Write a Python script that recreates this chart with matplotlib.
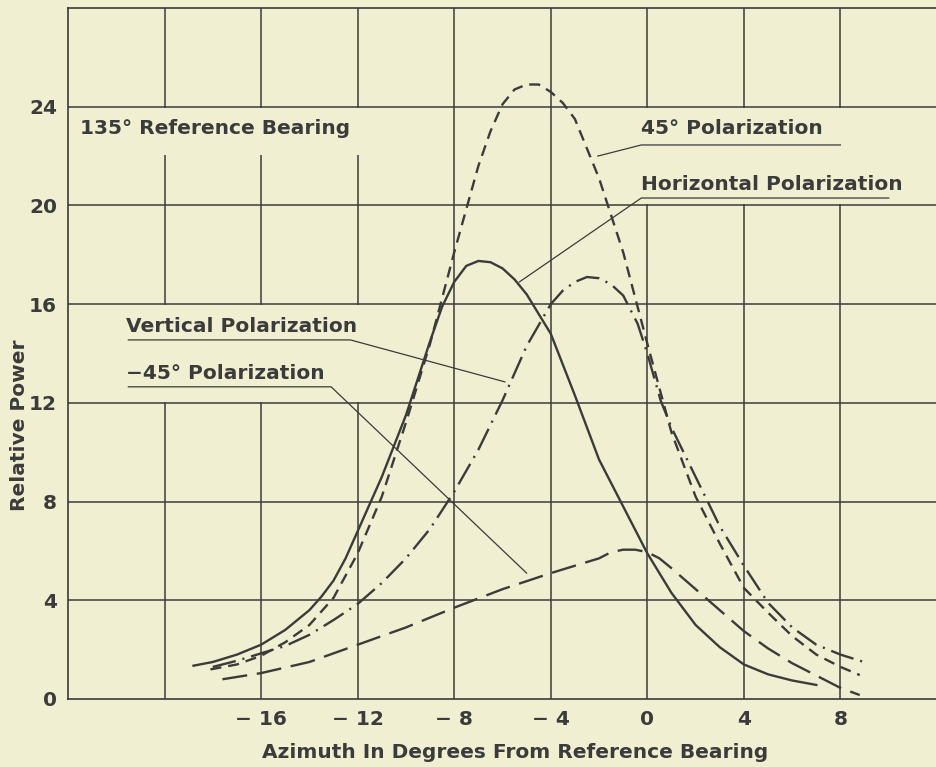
import matplotlib
matplotlib.use("Agg")
import matplotlib.pyplot as plt
from matplotlib.patches import Rectangle

# readings: azimuth (deg) and relative power
horiz_x = [-18.8, -18, -17, -16, -15, -14, -13.5, -13, -12.5, -12, -11, -10, -9, -8.5, -8, -7.5,
           -7, -6.5, -6, -5.5, -5, -4, -3, -2, -1, 0, 1, 2, 3, 4, 5, 6, 7]
horiz_y = [1.35, 1.5, 1.8, 2.2, 2.8, 3.6, 4.15, 4.8, 5.7, 6.8, 9.0, 11.5, 14.5, 15.9, 16.9,
           17.55, 17.75, 17.7, 17.45, 17.0, 16.4, 14.8, 12.3, 9.7, 7.8, 5.9, 4.3, 3.0, 2.1, 1.4,
           1.0, 0.75, 0.57]

pol45_x = [-18.1, -17, -16, -15, -14, -13, -12, -11, -10, -9, -8, -7, -6.5, -6, -5.5, -5, -4.5,
           -4, -3.5, -3, -2, -1, 0, 1, 2, 3, 4, 5, 6, 7, 8, 8.8]
pol45_y = [1.2, 1.4, 1.75, 2.3, 3.0, 4.1, 5.9, 8.2, 11.2, 14.4, 18.1, 21.6, 23.0, 24.1, 24.7,
           24.9, 24.9, 24.6, 24.15, 23.5, 21.1, 18.1, 14.4, 10.8, 8.2, 6.3, 4.5, 3.5, 2.55, 1.8,
           1.3, 0.97]

vert_x = [-18, -17, -16, -15, -14, -13, -12, -11, -10, -9, -8, -7, -6, -5, -4, -3.5, -3, -2.5,
          -2, -1.5, -1, -0.4, 0, 0.55, 1, 2, 3, 4, 5, 6, 7, 8, 9.1]
vert_y = [1.3, 1.55, 1.85, 2.15, 2.6, 3.2, 3.85, 4.7, 5.7, 6.9, 8.4, 10.1, 12.1, 14.3, 16.0,
          16.55, 16.9, 17.1, 17.05, 16.8, 16.35, 15.2, 14.0, 12.1, 11.0, 9.0, 7.0, 5.4, 3.9, 2.9,
          2.2, 1.8, 1.46]

neg45_x = [-17.6, -16, -14, -12, -10, -8, -6, -4, -2, -1.5, -1, -0.5, 0, 0.5, 1, 2, 3, 4, 5,
           6, 7, 8, 8.8]
neg45_y = [0.8, 1.05, 1.5, 2.2, 2.9, 3.7, 4.45, 5.1, 5.7, 5.95, 6.05, 6.05, 5.95, 5.7, 5.3,
           4.45, 3.6, 2.75, 2.05, 1.45, 0.95, 0.45, 0.16]

x_ticks = [-16, -12, -8, -4, 0, 4, 8]
y_ticks = [0, 4, 8, 12, 16, 20, 24]

bg = "#f0efd1"
ink = "#3b3b3b"
plt.rcParams["font.family"] = "DejaVu Sans"
plt.rcParams["font.weight"] = "bold"
plt.rcParams["lines.scale_dashes"] = False

fig = plt.figure(figsize=(9.37, 7.67), dpi=100, facecolor=bg)
ax = fig.add_axes([68 / 937, 68 / 767, 869 / 937, 691 / 767], facecolor=bg)
ax.set_xlim(-24, 12)
ax.set_ylim(0, 28)

# grid
for gx in range(-20, 12, 4):
    ax.axvline(gx, color=ink, lw=1.1, zorder=1)
for gy in range(4, 28, 4):
    ax.axhline(gy, color=ink, lw=1.1, zorder=1)

# blank patches behind the labels, where the grid is broken
for (x0, y0, w, h) in [(-23.9, 22.05, 15.3, 1.9), (-0.6, 20.05, 12.6, 3.9),
                       (-23.9, 12.05, 15.3, 3.9)]:
    ax.add_patch(Rectangle((x0, y0), w, h, facecolor=bg, edgecolor="none", zorder=2))

lw = 1.7
ax.plot(horiz_x, horiz_y, color=ink, lw=lw, zorder=4)
ax.plot(pol45_x, pol45_y, color=ink, lw=lw, dashes=(8, 5), zorder=4)
ax.plot(vert_x, vert_y, color=ink, lw=lw, dashes=(17, 5, 1.5, 5), zorder=4)
ax.plot(neg45_x, neg45_y, color=ink, lw=lw, dashes=(18, 7), zorder=4)

# labels with underline and leader
fs = 14.5
ax.text(-23.5, 23.1, "135° Reference Bearing", fontsize=fs, color=ink, va="center", zorder=5)

labels = [
    ("45° Polarization", -0.25, 23.1, 22.45, 8.0, (-2.05, 22.0)),
    ("Horizontal Polarization", -0.25, 20.85, 20.3, 10.0, (-5.3, 16.9)),
    ("Vertical Polarization", -21.6, 15.1, 14.55, -12.3, (-5.9, 12.85)),
    ("\u221245° Polarization", -21.6, 13.2, 12.65, -13.1, (-5.0, 5.1)),
]
for txt, tx, ty, uy, ux1, tip in labels:
    ax.text(tx, ty, txt, fontsize=fs, color=ink, va="center", zorder=5)
    if tx > -5:
        ax.plot([tip[0], tx, ux1], [tip[1], uy, uy], color=ink, lw=0.9, zorder=5)
    else:
        ax.plot([tx + 0.1, ux1, tip[0]], [uy, uy, tip[1]], color=ink, lw=0.9, zorder=5)

ax.set_xticks(x_ticks)
ax.set_xticklabels([f"{v:d}".replace("-", "\u2212 ") for v in x_ticks])
ax.set_yticks(y_ticks)
ax.tick_params(length=0, labelsize=fs, labelcolor=ink, pad=8)
for s in ax.spines.values():
    s.set_color(ink)
    s.set_linewidth(1.2)

fig.text(515 / 937, 1 - 752 / 767, "Azimuth In Degrees From Reference Bearing",
         fontsize=fs, color=ink, ha="center", va="center")
fig.text(20 / 937, 1 - 425 / 767, "Relative Power", fontsize=fs, color=ink,
         ha="center", va="center", rotation=90)

fig.savefig("out.png", dpi=100, facecolor=bg)
